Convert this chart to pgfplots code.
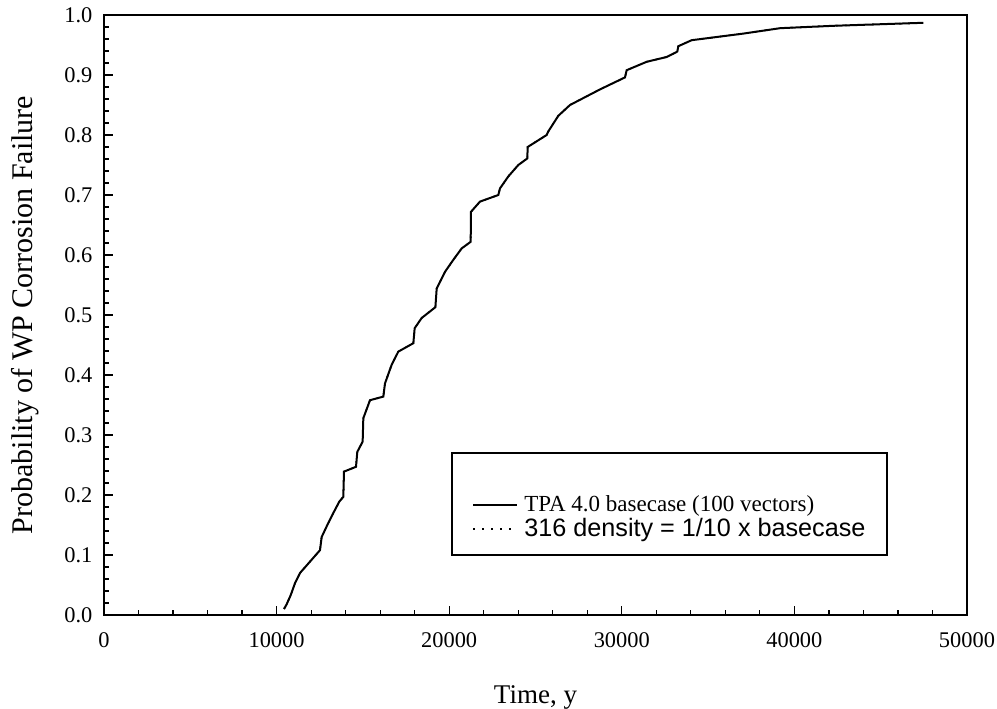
\documentclass[border=0pt]{standalone}
\usepackage{pgfplots}
\pgfplotsset{compat=1.18}
\usepackage{fontspec}
\setmainfont{Liberation Serif}
\newfontfamily\arial{Liberation Sans}
\pgfplotstableread{
x p
10430 0.010
10585 0.018
10816 0.033
11066 0.053
11356 0.070
12514 0.108
12611 0.130
12939 0.150
13286 0.170
13634 0.189
13866 0.197
13904 0.239
14600 0.247
14677 0.272
14986 0.289
15025 0.328
15411 0.358
16184 0.364
16280 0.386
16666 0.417
17053 0.439
17923 0.453
18000 0.478
18405 0.495
19200 0.513
19275 0.544
19757 0.572
20240 0.592
20723 0.611
21244 0.622
21263 0.672
21784 0.689
22846 0.700
22943 0.711
23426 0.731
24005 0.750
24527 0.761
24546 0.780
25646 0.800
25743 0.806
26322 0.832
26999 0.850
28737 0.876
29896 0.892
30185 0.896
30282 0.908
31440 0.922
32599 0.930
33216 0.939
33274 0.948
34047 0.958
37038 0.969
39166 0.978
42254 0.982
47468 0.987
}\basecase
\begin{document}
\begin{tikzpicture}
\useasboundingbox (-52pt,-46.5pt) rectangle (446.5pt,307.5pt);
\begin{axis}[
  at={(0,0)}, anchor=south west,
  scale only axis, width=431.5pt, height=300pt,
  xmin=0, xmax=50000, ymin=0, ymax=1,
  xtick={0,10000,...,50000}, ytick={0,0.1,...,1.0},
  minor x tick num=4, minor y tick num=4,
  xtick pos=left, ytick pos=left,
  tick align=inside,
  major tick length=4.5pt, minor tick length=2.5pt,
  axis line style={line width=0.75pt},
  every tick/.style={black, line width=0.6pt},
  scaled x ticks=false,
  /pgf/number format/assume math mode=true,
  xticklabel style={/pgf/number format/set thousands separator={}, yshift=-5.3pt},
  yticklabel style={/pgf/number format/.cd, fixed, fixed zerofill, precision=1, /tikz/.cd, xshift=-2.3pt},
  ticklabel style={font=\fontsize{11.2}{13}\selectfont},
  xlabel={Time, y},
  ylabel={Probability of WP Corrosion Failure},
  xlabel style={at={(axis description cs:0.5,-0.1467)}, anchor=base, font=\fontsize{13.5}{16}\selectfont},
  ylabel style={at={(axis description cs:-0.0823,0.5)}, anchor=base, font=\fontsize{15}{18}\selectfont},
  legend style={draw=none, fill=none, at={(rel axis cs:0.4264,0.203)}, anchor=north west,
    inner sep=0pt, row sep=0pt, nodes={inner ysep=1pt, inner xsep=3pt}},
  legend cell align=left,
  legend image code/.code={\draw[#1] (0pt,0pt) -- (22pt,0pt);},
]
\addplot[black, line width=1pt] table[x=x,y=p] {\basecase};
\addlegendentry{\fontsize{11.5}{13}\selectfont TPA 4.0 basecase (100 vectors)}
\addplot[black, line width=0.8pt, dash pattern=on 0.8pt off 3.7pt] table[x=x,y=p] {\basecase};
\addlegendentry{\arial\fontsize{12.6}{14}\selectfont 316 density = 1/10 x basecase}
\draw[line width=0.6pt] (rel axis cs:0.4032,0.1) rectangle (rel axis cs:0.9073,0.27);
\end{axis}
\end{tikzpicture}
\end{document}
